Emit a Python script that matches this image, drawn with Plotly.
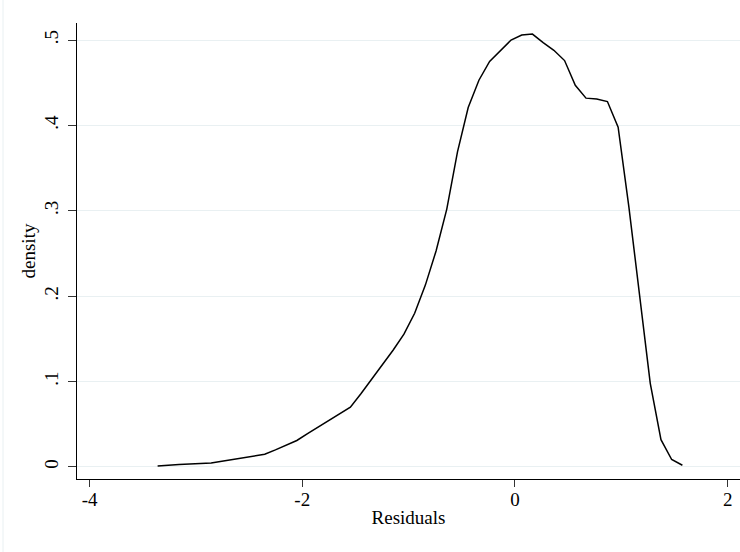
import plotly.graph_objects as go

# Kernel density estimate of residuals (50 evaluation points)
x_start = -3.36
x_step = 0.1007
density = [
    0.0010, 0.0022, 0.0030, 0.0034, 0.0038, 0.0047, 0.0067, 0.0088, 0.0108, 0.0128,
    0.0149, 0.0200, 0.0255, 0.0310, 0.0390, 0.0465, 0.0540, 0.0620, 0.0700, 0.0860,
    0.1030, 0.1200, 0.1370, 0.1555, 0.1800, 0.2130, 0.2530, 0.3020, 0.3690, 0.4210,
    0.4530, 0.4750, 0.4880, 0.5000, 0.5060, 0.5070, 0.4970, 0.4880, 0.4760, 0.4470,
    0.4320, 0.4310, 0.4280, 0.3980, 0.3050, 0.1980, 0.0980, 0.0320, 0.0087, 0.0020,
]
residuals = [round(x_start + i * x_step, 4) for i in range(len(density))]

x_ticks = [-4, -2, 0, 2]
x_tick_labels = ["-4", "-2", "0", "2"]
y_ticks = [0, 0.1, 0.2, 0.3, 0.4, 0.5]
y_tick_labels = ["0", ".1", ".2", ".3", ".4", ".5"]

font_family = "Liberation Serif"
grid_color = "#e9f0f2"

fig = go.Figure()
fig.add_trace(go.Scatter(
    x=residuals, y=density, mode="lines",
    line=dict(color="black", width=1.5),
    showlegend=False, hoverinfo="skip",
))

fig.update_layout(
    width=740, height=552,
    margin=dict(l=77, r=0, t=23, b=73),
    paper_bgcolor="white", plot_bgcolor="white",
    font=dict(family=font_family, size=19, color="black"),
    xaxis=dict(
        range=[-4.118, 2.116],
        tickmode="array", tickvals=x_ticks, ticktext=x_tick_labels,
        ticks="outside", ticklen=7, tickwidth=1, tickcolor="#333333",
        showline=True, linecolor="black", linewidth=1.3,
        showgrid=False, zeroline=False, automargin=False,
        ticklabelstandoff=-4,
        title=dict(text="Residuals", standoff=1, font=dict(size=19)),
        tickfont=dict(size=19),
    ),
    yaxis=dict(
        range=[-0.0141, 0.520],
        tickmode="array", tickvals=y_ticks, ticktext=y_tick_labels,
        tickangle=-90,
        ticks="outside", ticklen=8, tickwidth=1, tickcolor="#333333",
        showline=True, linecolor="black", linewidth=1.3,
        showgrid=True, gridcolor=grid_color, gridwidth=1,
        zeroline=False, automargin=False,
        ticklabelstandoff=2,
        title=dict(text="density", standoff=0, font=dict(size=19)),
        tickfont=dict(size=19),
    ),
)

# faint outer graph-region border on the left edge
fig.add_shape(type="line", xref="paper", yref="paper",
              x0=-74 / 663, x1=-74 / 663, y0=-73 / 456, y1=(552 - 23) / 456,
              line=dict(color=grid_color, width=1))

fig.write_html("out.html", config={"displayModeBar": False},
               post_script="document.body.style.margin='0';")
